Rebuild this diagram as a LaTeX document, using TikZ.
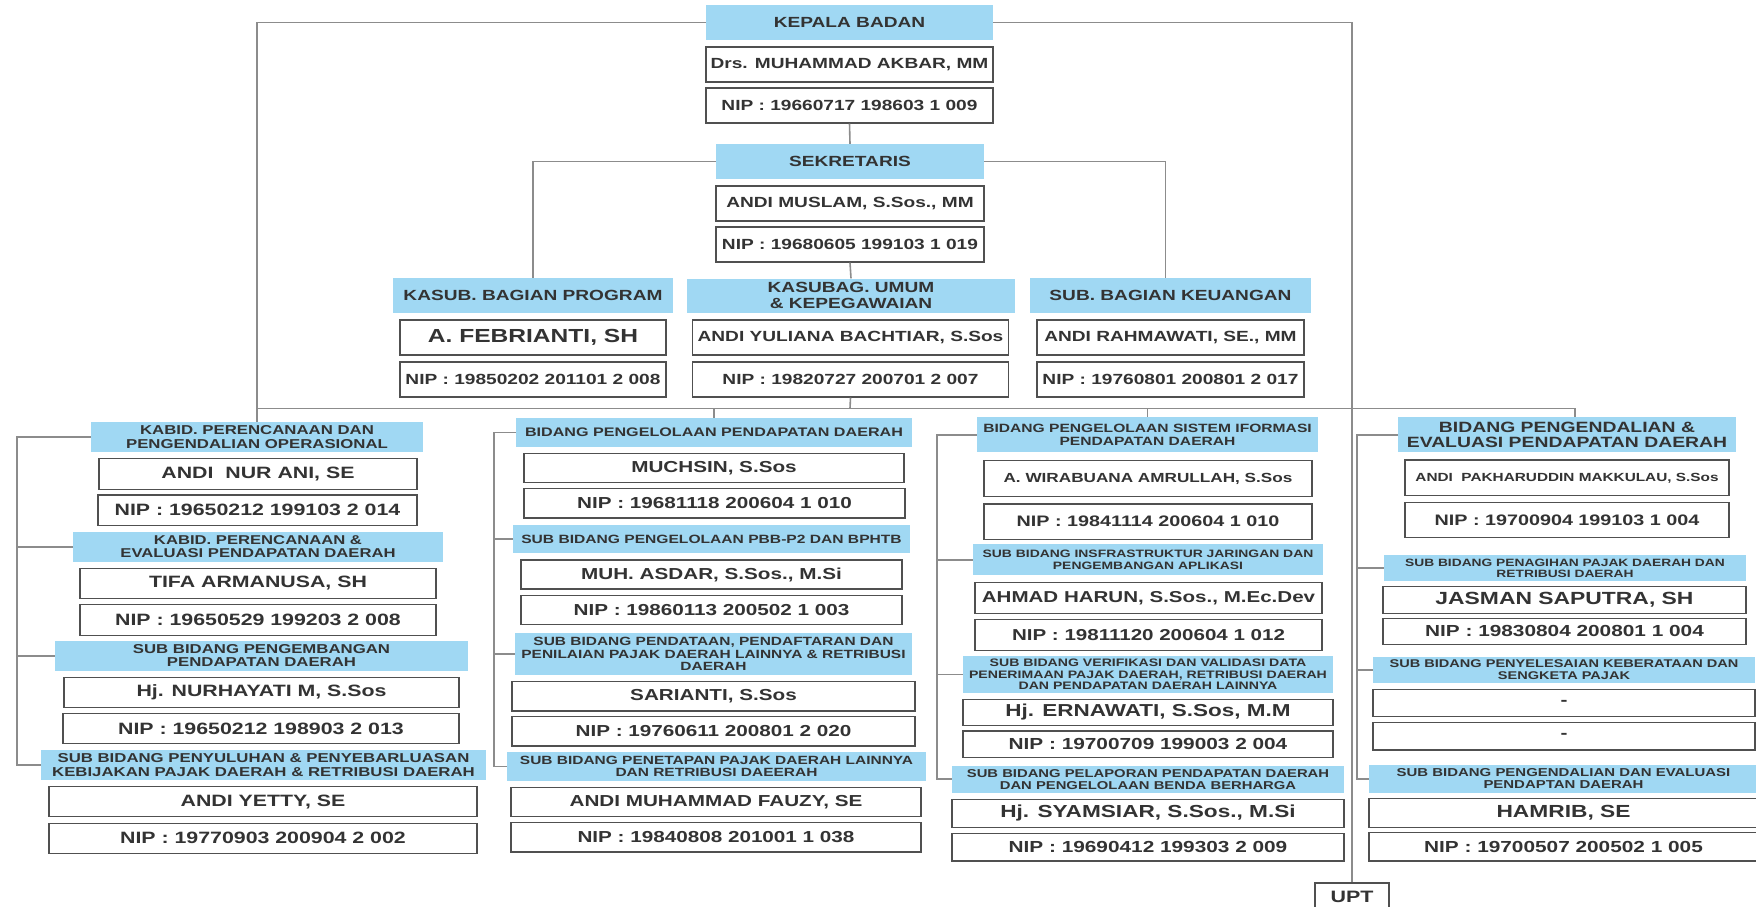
\documentclass[tikz,border=0pt]{standalone}
\usepackage{fontspec}
\newfontfamily\orgfont[FakeStretch=1.3]{Liberation Sans}
\newcommand{\fsz}[1]{\fontsize{#1}{\dimexpr#1pt*105/100\relax}\selectfont}
\definecolor{headblue}{HTML}{A0D8F3}
\definecolor{linegray}{HTML}{8C8C8C}
\definecolor{boxgray}{HTML}{505050}
\definecolor{inkgray}{HTML}{333333}
\tikzset{
  link/.style={draw=linegray, line width=1.6pt},
  head/.style={fill=headblue, text=inkgray, align=center, inner sep=0pt,
    font=\orgfont\bfseries\fsz{#1}},
  card/.style={draw=boxgray, line width=1.3pt, fill=white, text=inkgray,
    align=center, inner sep=0pt, font=\orgfont\bfseries\fsz{#1}},
  wh/.style 2 args={minimum width=#1, minimum height=#2}
}

\begin{document}
\begin{tikzpicture}[x=1pt, y=-1pt]
  \path[use as bounding box, fill=white] (0,0) rectangle (1756,907);

  % kepala, sekretaris and sub bagian
  \node[head=14.7, wh={287}{35}] (kb) at (849.5,22.5) {KEPALA BADAN};
  \node[card=14.7, wh={287}{35}] (kb1) at (849.5,64.5) {Drs. MUHAMMAD AKBAR, MM};
  \node[card=14.7, wh={287}{35}] (kb2) at (849.5,105.5) {NIP : 19660717 198603 1 009};

  \node[head=14.7, wh={268}{35}] (sk) at (850,161.5) {SEKRETARIS};
  \node[card=14.7, wh={268}{35}] (sk1) at (850,203.5) {ANDI MUSLAM, S.Sos., MM};
  \node[card=14.7, wh={268}{35}] (sk2) at (850,244.5) {NIP : 19680605 199103 1 019};

  \node[head=14.7, wh={280}{35}] (pg) at (533,295.5) {KASUB. BAGIAN PROGRAM};
  \node[card=18.9, wh={266}{35}] (pg1) at (533,337.5) {A. FEBRIANTI, SH};
  \node[card=14.7, wh={266}{35}] (pg2) at (533,379.5) {NIP : 19850202 201101 2 008};

  \node[head=14.7, wh={328}{34}] (um) at (851,295.5) {KASUBAG. UMUM\\\& KEPEGAWAIAN};
  \node[card=14.7, wh={316}{35}] (um1) at (850.5,337.5) {ANDI YULIANA BACHTIAR, S.Sos};
  \node[card=14.7, wh={316}{35}] (um2) at (850.5,379.5) {NIP : 19820727 200701 2 007};

  \node[head=14.7, wh={281}{35}] (ku) at (1170.5,295.5) {SUB. BAGIAN KEUANGAN};
  \node[card=14.7, wh={267}{35}] (ku1) at (1170.5,337.5) {ANDI RAHMAWATI, SE., MM};
  \node[card=14.7, wh={267}{35}] (ku2) at (1170.5,379.5) {NIP : 19760801 200801 2 017};

  % column 1
  \node[head=12.9, wh={332}{30.6}] (c1h1) at (257,437) {KABID. PERENCANAAN DAN\\PENGENDALIAN OPERASIONAL};
  \node[card=16.4, wh={318}{30.6}] (c1n1) at (258,474) {ANDI\ \ NUR ANI, SE};
  \node[card=16.4, wh={319}{30.6}] (c1p1) at (257.5,510.3) {NIP : 19650212 199103 2 014};
  \node[head=12.8, wh={370}{30.3}] (c1h2) at (258,546.8) {KABID. PERENCANAAN \&\\EVALUASI PENDAPATAN DAERAH};
  \node[card=16.4, wh={356}{30.4}] (c1n2) at (258,583.5) {TIFA ARMANUSA, SH};
  \node[card=16.4, wh={356}{30.6}] (c1p2) at (258,620) {NIP : 19650529 199203 2 008};
  \node[head=12.9, wh={413}{30}] (c1h3) at (261.5,655.7) {SUB BIDANG PENGEMBANGAN\\PENDAPATAN DAERAH};
  \node[card=16.4, wh={395}{30}] (c1n3) at (261.5,692.3) {Hj. NURHAYATI M, S.Sos};
  \node[card=16.4, wh={396}{30}] (c1p3) at (261,728.7) {NIP : 19650212 198903 2 013};
  \node[head=12.9, wh={445}{30}] (c1h4) at (263.5,765) {SUB BIDANG PENYULUHAN \& PENYEBARLUASAN\\KEBIJAKAN PAJAK DAERAH \& RETRIBUSI DAERAH};
  \node[card=16.4, wh={428}{30}] (c1n4) at (263,801.7) {ANDI YETTY, SE};
  \node[card=16.4, wh={428}{30}] (c1p4) at (263,838.3) {NIP : 19770903 200904 2 002};

  % column 2
  \node[head=12.4, wh={396}{28.4}] (c2h1) at (714,432.5) {BIDANG PENGELOLAAN PENDAPATAN DAERAH};
  \node[card=15.9, wh={380}{29.4}] (c2n1) at (714,468) {MUCHSIN, S.Sos};
  \node[card=15.9, wh={381}{29.3}] (c2p1) at (714.5,503.3) {NIP : 19681118 200604 1 010};
  \node[head=12.0, wh={397}{28.3}] (c2h2) at (711.5,539.2) {SUB BIDANG PENGELOLAAN PBB-P2 DAN BPHTB};
  \node[card=15.9, wh={381}{29}] (c2n2) at (711.5,574.5) {MUH. ASDAR, S.Sos., M.Si};
  \node[card=15.9, wh={381}{28.6}] (c2p2) at (711.5,610) {NIP : 19860113 200502 1 003};
  \node[head=11.9, wh={397}{42.6}] (c2h3) at (713.5,654) {SUB BIDANG PENDATAAN, PENDAFTARAN DAN\\PENILAIAN PAJAK DAERAH LAINNYA \& RETRIBUSI\\DAERAH};
  \node[card=15.9, wh={403}{29.3}] (c2n3) at (713.5,696.3) {SARIANTI, S.Sos};
  \node[card=15.9, wh={403}{29.3}] (c2p3) at (713.5,731.3) {NIP : 19760611 200801 2 020};
  \node[head=11.9, wh={419}{29.3}] (c2h4) at (716.5,766.3) {SUB BIDANG PENETAPAN PAJAK DAERAH LAINNYA\\DAN RETRIBUSI DAEERAH};
  \node[card=15.9, wh={410}{29.4}] (c2n4) at (716,802) {ANDI MUHAMMAD FAUZY, SE};
  \node[card=15.9, wh={410}{29.3}] (c2p4) at (716,837.3) {NIP : 19840808 201001 1 038};

  % column 3
  \node[head=12.0, wh={341}{35}] (c3h1) at (1147.5,434.8) {BIDANG PENGELOLAAN SISTEM IFORMASI\\PENDAPATAN DAERAH};
  \node[card=13.2, wh={328}{36}] (c3n1) at (1148,478.7) {A. WIRABUANA AMRULLAH, S.Sos};
  \node[card=15.2, wh={328}{35.3}] (c3p1) at (1148,521.7) {NIP : 19841114 200604 1 010};
  \node[head=10.7, wh={350}{30.7}] (c3h2) at (1148,559.7) {SUB BIDANG INSFRASTRUKTUR JARINGAN DAN\\PENGEMBANGAN APLIKASI};
  \node[card=15.8, wh={347}{31}] (c3n2) at (1148.5,597.8) {AHMAD HARUN, S.Sos., M.Ec.Dev};
  \node[card=15.8, wh={347}{31.4}] (c3p2) at (1148.5,635) {NIP : 19811120 200604 1 012};
  \node[head=10.85, wh={370}{36.7}] (c3h3) at (1148,674.3) {SUB BIDANG VERIFIKASI DAN VALIDASI DATA\\PENERIMAAN PAJAK DAERAH, RETRIBUSI DAERAH\\DAN PENDAPATAN DAERAH LAINNYA};
  \node[card=17.3, wh={370}{26.4}] (c3n3) at (1148,712.5) {Hj. ERNAWATI, S.Sos, M.M};
  \node[card=16.0, wh={370}{26.3}] (c3p3) at (1148,744.2) {NIP : 19700709 199003 2 004};
  \node[head=11.4, wh={392}{27}] (c3h4) at (1148,779.2) {SUB BIDANG PELAPORAN PENDAPATAN DAERAH\\DAN PENGELOLAAN BENDA BERHARGA};
  \node[card=17.4, wh={392}{28}] (c3n4) at (1148,813.3) {Hj. SYAMSIAR, S.Sos., M.Si};
  \node[card=16.0, wh={392}{27.7}] (c3p4) at (1148,847.2) {NIP : 19690412 199303 2 009};

  % column 4
  \node[head=14.9, wh={338}{35}] (c4h1) at (1567,434.8) {BIDANG PENGENDALIAN \&\\EVALUASI PENDAPATAN DAERAH};
  \node[card=11.8, wh={324}{35.7}] (c4n1) at (1567,477.8) {ANDI\ \ PAKHARUDDIN MAKKULAU, S.Sos};
  \node[card=15.2, wh={324}{35}] (c4p1) at (1567,520.2) {NIP : 19700904 199103 1 004};
  \node[head=10.6, wh={362}{25.7}] (c4h2) at (1565,568.2) {SUB BIDANG PENAGIHAN PAJAK DAERAH DAN\\RETRIBUSI DAERAH};
  \node[card=17.6, wh={363}{26.6}] (c4n2) at (1564.5,600) {JASMAN SAPUTRA, SH};
  \node[card=16.0, wh={363}{26}] (c4p2) at (1564.5,631.3) {NIP : 19830804 200801 1 004};
  \node[head=11.2, wh={382}{26.6}] (c4h3) at (1564,670) {SUB BIDANG PENYELESAIAN KEBERATAAN DAN\\SENGKETA PAJAK};
  \node[card=16.0, wh={382}{27.4}] (c4n3) at (1564,703) {-};
  \node[card=16.0, wh={382}{27.7}] (c4p3) at (1564,736.2) {-};
  \node[head=11.5, wh={389}{27.7}] (c4h4) at (1563.5,778.8) {SUB BIDANG PENGENDALIAN DAN EVALUASI\\PENDAPTAN DAERAH};
  \node[card=17.5, wh={389}{29}] (c4n4) at (1563.5,812.8) {HAMRIB, SE};
  \node[card=16.0, wh={389}{28.3}] (c4p4) at (1563.5,846.8) {NIP : 19700507 200502 1 005};

  \node[card=16.5, wh={74}{28}] (upt) at (1352,897) {UPT};

  % connectors
  \coordinate (bus) at (850,408.3);
  \coordinate (r1) at (17,0);
  \coordinate (r2) at (494,0);
  \coordinate (r3) at (937,0);
  \coordinate (r4) at (1357,0);

  \draw[link] (kb.west) -| (c1h1.north);
  \draw[link] (kb.east) -| (upt.north);
  \draw[link] (kb2.south) -- (sk.north);
  \draw[link] (sk.west) -| (pg.north);
  \draw[link] (sk.east) -| ([xshift=-5pt]ku.north);
  \draw[link] (sk2.south) -- (um.north);
  \draw[link] (um2.south) -- (bus);
  \draw[link] (c1h1.north |- bus) -| ([xshift=8pt]c4h1.north);
  \draw[link] (bus -| c2h1.north) -- (c2h1.north);
  \draw[link] (bus -| c3h1.north) -- (c3h1.north);

  \foreach \col in {1,...,4} {
    \draw[link] (c\col h1.west) -| (r\col |- c\col h4.west) -- (c\col h4.west);
    \foreach \k in {2,3}
      \draw[link] (c\col h\k.west) -- (r\col |- c\col h\k.west);
  }
\end{tikzpicture}
\end{document}
